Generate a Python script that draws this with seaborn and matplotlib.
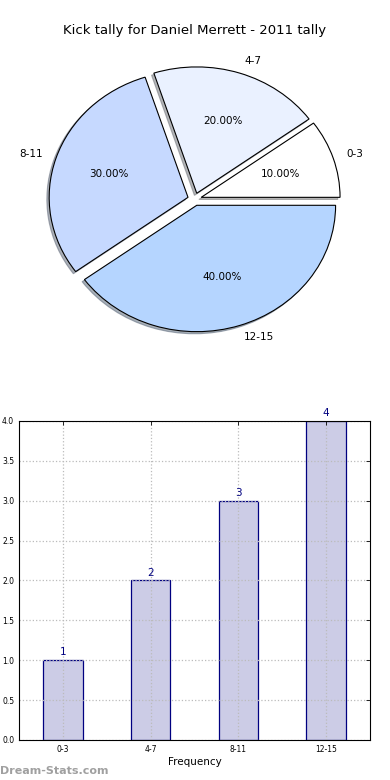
import matplotlib
matplotlib.use("Agg")
import matplotlib.pyplot as plt
import seaborn as sns

# datos del grafico
categorias = ["0-3", "4-7", "8-11", "12-15"]
frecuencias = [1, 2, 3, 4]
colores_pie = ["#FFFFFF", "#EAF1FF", "#C6D9FF", "#B5D5FF"]
titulo = "Kick tally for Daniel Merrett - 2011 tally"

sns.set_style("white")
plt.rcParams["font.family"] = ["DejaVu Sans"]
plt.rcParams["text.color"] = "black"
plt.rcParams["axes.labelcolor"] = "black"
plt.rcParams["xtick.color"] = "black"
plt.rcParams["ytick.color"] = "black"

fig = plt.figure(figsize=(3.9, 7.8), dpi=100)

# pie de arriba
ax_pie = fig.add_axes([0.054, 0.542, 0.89, 0.405])
ax_pie.pie(frecuencias, labels=categorias, colors=colores_pie,
           explode=[0.05] * len(frecuencias),
           shadow={"ox": -0.012, "oy": -0.012, "shade": 0.55},
           autopct="%.2f%%", startangle=0, counterclock=True,
           wedgeprops={"edgecolor": "black", "linewidth": 0.8},
           textprops={"fontsize": 7.5})
ax_pie.set_aspect("auto")
ax_pie.set_xlim(-1.25, 1.25)
ax_pie.set_ylim(-1.25, 1.25)
fig.text(0.5, 0.961, titulo, ha="center", va="center", fontsize=9.5)

# barras de abajo
ax_bar = fig.add_axes([0.049, 0.0513, 0.9, 0.409])
sns.barplot(x=categorias, y=frecuencias, ax=ax_bar, color="#CCCCE6",
            edgecolor="#000080", linewidth=0.9, width=0.45, saturation=1)
ax_bar.set_ylim(0, 4)
ax_bar.set_xlim(-0.5, 3.5)
ax_bar.set_yticks([0, 0.5, 1, 1.5, 2, 2.5, 3, 3.5, 4])
ax_bar.set_yticklabels([f"{v:.1f}" for v in ax_bar.get_yticks()])
ax_bar.set_axisbelow(False)
ax_bar.grid(True, linestyle=":", color="#BBBBBB", linewidth=0.9)
ax_bar.tick_params(direction="in", labelsize=5.5, right=True, top=True,
                   length=3, width=0.6)
for s in ax_bar.spines.values():
    s.set_visible(True)
    s.set_color("black")
    s.set_linewidth(0.8)
    s.set_zorder(5)
ax_bar.set_xlabel("Frequency", fontsize=7.5, labelpad=2)
ax_bar.set_ylabel("")
ax_bar.bar_label(ax_bar.containers[0], color="#000080", fontsize=7.5, padding=2)

fig.text(0.0, 0.012, "Dream-Stats.com", color="#A0A0A0", fontsize=8,
         fontweight="bold", ha="left", va="center")

fig.savefig("out.png", dpi=100)
